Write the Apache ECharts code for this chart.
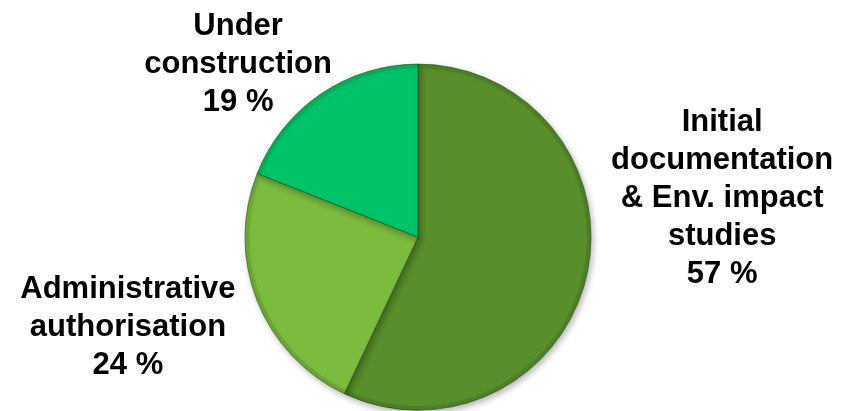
<!DOCTYPE html>
<html>
<head>
<meta charset="utf-8">
<title>Project stages</title>
<script src="https://cdn.jsdelivr.net/npm/echarts@6/dist/echarts.min.js"></script>
<style>
  html, body { margin: 0; padding: 0; background: #ffffff; }
  #chart { width: 854px; height: 411px; }
</style>
</head>
<body>
<div id="chart"></div>
<script>
// Share of projects by stage (%), clockwise from 12 o'clock
const stageNames = [
  'Initial\ndocumentation\n& Env. impact\nstudies',
  'Administrative\nauthorisation',
  'Under\nconstruction'
];
const stageShares = [57, 24, 19];
const stageColors = ['#588e2b', '#7bbb3e', '#00c36a'];

// Where each label block sits, as a direction (degrees clockwise from top)
// and a distance in units of the pie radius, measured from the pie centre
const labelSpots = [
  { angle: 82.7, dist: 1.772 },
  { angle: 252.7, dist: 1.756 },
  { angle: 313.9, dist: 1.443 }
];

const chart = echarts.init(document.getElementById('chart'));

const centerPct = [0.4895, 0.577];
const radiusPct = 0.842;
const centerOpt = [(centerPct[0] * 100) + '%', (centerPct[1] * 100) + '%'];

chart.setOption({
  backgroundColor: '#ffffff',
  animation: false,
  series: [{
    type: 'pie',
    center: centerOpt,
    radius: (radiusPct * 100) + '%',
    startAngle: 90,
    clockwise: true,
    data: stageNames.map((name, i) => ({
      name: name,
      value: stageShares[i],
      itemStyle: { color: stageColors[i] }
    })),
    itemStyle: {
      borderColor: 'rgba(30,70,20,0.55)',
      borderWidth: 1,
      shadowBlur: 6,
      shadowOffsetX: 2,
      shadowOffsetY: 3,
      shadowColor: 'rgba(0,0,0,0.28)'
    },
    label: {
      show: true,
      position: 'outside',
      overflow: 'none',
      formatter: p => p.name + '\n' + p.value + ' %',
      fontFamily: '"Liberation Sans", Arial, sans-serif',
      fontWeight: 'bold',
      fontSize: 31,
      lineHeight: 38,
      color: '#000000',
      align: 'center'
    },
    labelLine: { show: false },
    labelLayout: function (params) {
      const w = chart.getWidth();
      const h = chart.getHeight();
      const cx = w * centerPct[0];
      const cy = h * centerPct[1];
      const r = Math.min(w, h) / 2 * radiusPct;
      const spot = labelSpots[params.dataIndex];
      const a = spot.angle * Math.PI / 180;
      return {
        x: cx + Math.sin(a) * r * spot.dist,
        y: cy - Math.cos(a) * r * spot.dist,
        align: 'center',
        verticalAlign: 'middle',
        hideOverlap: false
      };
    }
  }, {
    // thin shaded rim over the outer edge, giving the slices a soft bevel
    type: 'pie',
    silent: true,
    center: centerOpt,
    radius: [((radiusPct - 0.02) * 100) + '%', (radiusPct * 100) + '%'],
    startAngle: 90,
    clockwise: true,
    data: stageShares.map(v => ({ value: v })),
    itemStyle: {
      color: 'rgba(20,50,10,0.14)',
      borderWidth: 0
    },
    label: { show: false },
    labelLine: { show: false }
  }]
});
</script>
</body>
</html>
